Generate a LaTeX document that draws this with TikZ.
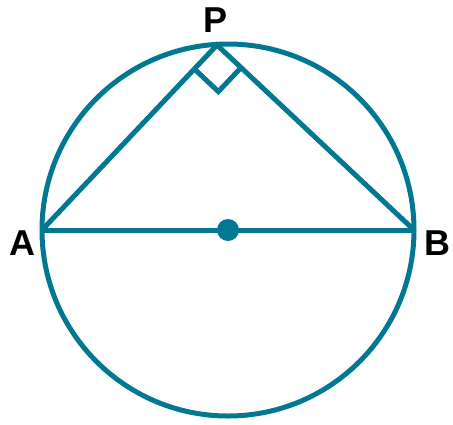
\documentclass[tikz,border=0pt]{standalone}
\usepackage{fontspec}
\setmainfont{Liberation Sans}
\usetikzlibrary{calc}
\definecolor{teal1}{RGB}{0,120,145}
\begin{document}
\begin{tikzpicture}[x=1pt,y=-1pt,
  geo/.style={draw=teal1,line width=5pt,line join=miter},
  lbl/.style={font=\fontsize{36}{36}\selectfont\bfseries,inner sep=0pt}]
\useasboundingbox (0,0) rectangle (453,424);
\coordinate (O) at (228,230);
\coordinate (A) at (42,230);
\coordinate (B) at (414,230);
\coordinate (P) at (217,45);
\coordinate (Q1) at ($(P)!33pt!(A)$);
\coordinate (Q3) at ($(P)!33pt!(B)$);
\coordinate (Q2) at ($(Q1)+(Q3)-(P)$);
\draw[geo] (O) circle (186);
\draw[geo] (A) -- (P) -- (B);
\draw[geo] (A) -- (B);
\draw[geo] (Q1) -- (Q2) -- (Q3);
\fill[teal1] (O) circle (11);
\node[lbl] (lP) at (216,20) {P};
\node[lbl] (lA) at (22,243) {A};
\node[lbl] (lB) at (437,243) {B};
\end{tikzpicture}
\end{document}
